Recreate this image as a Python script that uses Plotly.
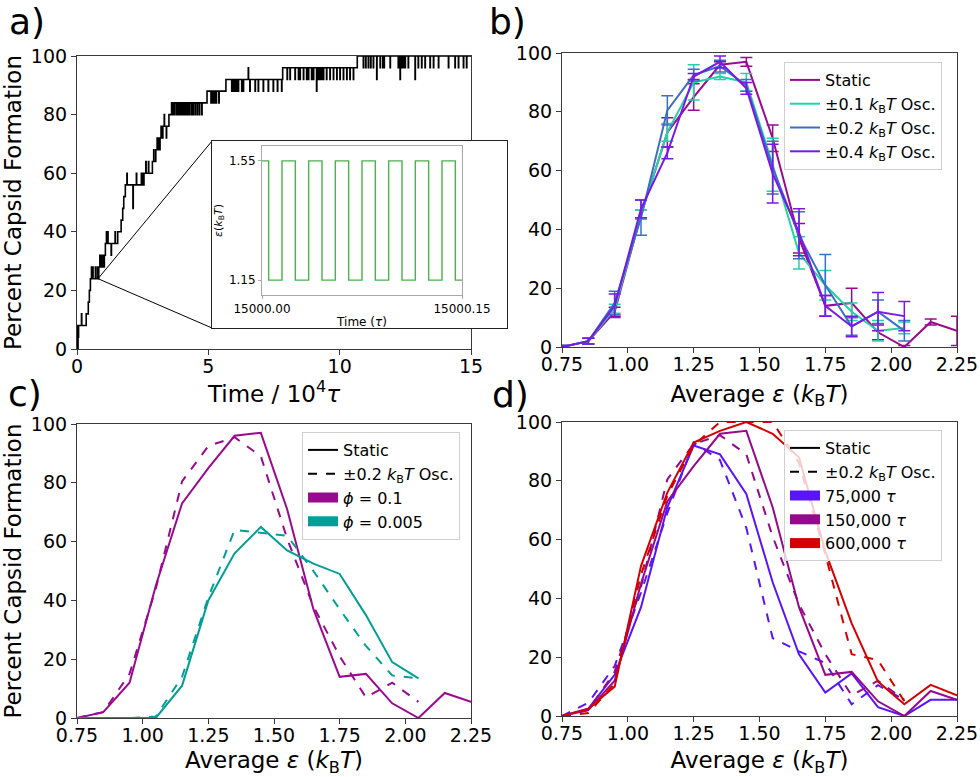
import bisect
import plotly.graph_objects as go

FONT = "DejaVu Sans"
W, H = 980, 777

# ---------------- data ----------------
# panel a: staircase of capsid formation vs time (10^4 tau)
a_step_t = [0.0, 0.04, 0.06, 0.35, 0.43, 0.47, 0.51, 0.83, 0.87, 1.08, 1.55, 1.68, 1.74,
            1.78, 1.84, 2.55, 2.87, 3.0, 3.1, 3.27, 3.5, 3.6, 4.95, 5.67, 7.83, 10.67, 15.0]
a_step_pct = [0, 4, 8, 12, 16, 20, 24, 28, 32, 36, 40, 44, 48,
              52, 56, 60, 64, 68, 72, 76, 80, 84, 88, 92, 96, 100, 100]
# momentary fluctuations (time, percent)
a_spike_t = [0.02, 0.17,
             0.55, 0.60, 0.70, 0.78,
             0.90, 0.93, 0.96, 1.00, 1.03,
             1.12, 1.17, 1.30, 1.45,
             1.90, 2.13, 2.26, 2.45, 2.50, 2.52,
             2.62, 2.72, 2.92, 3.05, 3.15, 3.20, 3.32, 3.40,
             3.65, 3.72, 3.80, 3.86, 3.92, 3.98, 4.05, 4.10, 4.16, 4.22, 4.28, 4.36, 4.42, 4.50, 4.58, 4.66, 4.75,
             5.10, 5.15, 5.20, 5.25, 5.30, 5.40,
             5.89, 5.95, 6.02, 6.08, 6.14, 6.27, 6.33, 6.52, 6.58, 6.78, 6.90, 7.09, 7.28, 7.47, 7.63, 7.79,
             8.00, 8.11, 8.30, 8.43, 8.49, 8.62, 8.74, 8.81, 8.93, 9.00, 9.12,
             9.19, 9.25, 9.31, 9.38, 9.50, 9.63, 9.76, 9.89, 10.01, 10.14, 10.27, 10.39, 10.52,
             10.90, 10.99, 11.09, 11.18, 11.28, 11.41, 11.54, 11.64, 11.69, 11.92, 12.23, 12.30,
             12.36, 12.42, 12.49, 12.61, 12.87,
             12.99, 13.12, 13.25, 13.44, 13.57, 13.76, 14.14, 14.39, 14.52, 14.71, 14.83]
a_spike_pct = [8, 12,
               28, 28, 28, 28,
               28, 28, 28, 28, 28,
               40, 40, 32, 40,
               60, 48, 60, 60, 60, 60,
               64, 64, 68, 72, 68, 76, 80, 72,
               80, 80, 80, 80, 80, 80, 80, 80, 80, 80, 80, 80, 80, 80, 80, 80, 80,
               84, 84, 84, 84, 84, 84,
               88, 88, 88, 88, 88, 88, 88, 96, 88, 88, 88, 88, 88, 88, 88, 88,
               92, 92, 92, 92, 92, 92, 92, 92, 92, 92, 88,
               92, 92, 92, 92, 92, 92, 92, 92, 92, 92, 92, 92, 92,
               96, 96, 96, 96, 96, 92, 96, 96, 96, 96, 96, 92,
               96, 96, 96, 96, 92,
               96, 96, 96, 96, 96, 96, 96, 96, 96, 96, 96]
zoom_t, zoom_pct = 0.8, 24

# inset: oscillating epsilon (time offset from 15000 tau)
osc_t = [0.000, 0.005, 0.015, 0.025, 0.035, 0.045, 0.055, 0.065, 0.075,
         0.085, 0.095, 0.105, 0.115, 0.125, 0.135, 0.145, 0.150]
osc_eps = [1.55, 1.15, 1.55, 1.15, 1.55, 1.15, 1.55, 1.15, 1.55,
           1.15, 1.55, 1.15, 1.55, 1.15, 1.55, 1.15, 1.15]

# average epsilon bins
eps_all = [0.75, 0.85, 0.95, 1.05, 1.15, 1.25, 1.35, 1.45, 1.55, 1.65, 1.75, 1.85, 1.95, 2.05, 2.15, 2.25]
eps_osc = [0.75, 0.85, 0.95, 1.05, 1.15, 1.25, 1.35, 1.45, 1.55, 1.65, 1.75, 1.85, 1.95, 2.05]

# panel b (phi = 0.1, 150,000 tau)
static_pct = [0, 2, 12, 45, 73, 85, 96, 97, 71, 37, 14, 15, 5, 0, 8.5, 5.5]
static_err = [0.5, 1, 1.5, 1.5, 5, 4.5, 1, 1.5, 4.5, 5, 3.5, 5, 2.5, 0.5, 1, 5]
osc01_pct = [0, 2, 13, 45, 73, 90, 92, 90, 62, 32, 21, 12, 5.5, 6.5]
osc01_err = [0.5, 1, 1.5, 1.5, 3, 6, 1, 3, 9, 5.5, 5, 3, 3.5, 2]
osc02_pct = [0, 2, 15, 44, 80.5, 92.5, 95.5, 89, 61, 38, 21, 7, 12, 5.5]
osc02_err = [0.5, 1, 4, 6, 5, 2, 2, 2, 9, 8, 10.5, 3, 4, 3.5]
osc04_pct = [0, 2, 14, 47, 66, 92, 97, 88, 59, 39, 14, 7, 12, 10.5]
osc04_err = [0.5, 1, 4, 3, 2, 1, 2, 2, 10, 8, 3.5, 3.5, 6.5, 5]

# panel c (phi = 0.005)
phi005_static = [0, 0, 0, 0, 11, 40, 56, 65, 57, 52.5, 49, 35, 19, 13.5]
phi005_osc = [0, 0, 0, 0.5, 14, 41, 64, 63, 62, 50, 37, 24.5, 14.5, 13.5]

# panel d (run lengths)
t75_static = [0, 2.5, 14, 37, 71, 92, 89, 75.5, 45.5, 21, 8, 14.5, 3, 0, 5.5, 5.5]
t75_osc = [0, 4.5, 17, 42, 69, 93, 87, 64, 26.5, 22, 18, 4, 10.5, 5.5]
t600_static = [0, 2.5, 10, 51, 76, 93, 97, 100, 96, 88, 56, 31.5, 11.7, 4, 10.6, 7]
t600_osc = [0, 1, 11, 48, 75, 92, 100, 100, 100, 86, 55, 21, 19, 5]

assert len(a_spike_t) == len(a_spike_pct)

# ---------------- colours ----------------
C_STATIC = "#9a0a8e"
C_OSC01 = "#22d3a5"
C_OSC02 = "#3b6fc4"
C_OSC04 = "#7a18e6"
C_PHI005 = "#009e96"
C_T75 = "#5a14fa"
C_T150 = "#96088c"
C_T600 = "#d40000"
C_INSET = "#4cb04c"

# ---------------- layout geometry (paper fractions) ----------------
def px_x(a, b):
    return [a / W, b / W]

def px_y(top, bottom):
    return [1 - bottom / H, 1 - top / H]

dom_a = (px_x(77, 471), px_y(56, 349))
dom_b = (px_x(562, 957), px_y(53, 347))
dom_c = (px_x(77, 471), px_y(424, 718))
dom_d = (px_x(562, 957), px_y(422, 716))
dom_box = (px_x(212, 507), px_y(141, 328))
dom_in = (px_x(262, 462), px_y(146, 295))

# ---------------- build panel a series ----------------
def base_at(t):
    i = bisect.bisect_right(a_step_t, t) - 1
    return a_step_pct[max(i, 0)]

pts = list(zip(a_step_t, a_step_pct))
for t, v in zip(a_spike_t, a_spike_pct):
    pts.append((t, v))
    pts.append((t + 0.012, base_at(t)))
pts.sort(key=lambda p: p[0])
a_x = [p[0] for p in pts]
a_y = [p[1] for p in pts]

fig = go.Figure()

fig.add_trace(go.Scatter(x=a_x, y=a_y, mode="lines", line=dict(color="black", width=1.6, shape="hv"),
                         xaxis="x", yaxis="y", showlegend=False, hoverinfo="skip"))

# connector lines from the zoom point to the inset box (box corners in data coords of axis a)
def paper_to_a(fx, fy):
    dx, dy = dom_a
    return ((fx - dx[0]) / (dx[1] - dx[0]) * 15.0, (fy - dy[0]) / (dy[1] - dy[0]) * 100.0)

bx0 = dom_box[0][0]
c_top = paper_to_a(bx0, dom_box[1][1])
c_bot = paper_to_a(bx0, dom_box[1][0])
fig.add_trace(go.Scatter(x=[c_top[0], zoom_t, c_bot[0]], y=[c_top[1], zoom_pct, c_bot[1]],
                         mode="lines", line=dict(color="black", width=1), cliponaxis=False,
                         xaxis="x", yaxis="y", showlegend=False, hoverinfo="skip"))

# inset box (empty subplot) + inset
fig.add_trace(go.Scatter(x=[], y=[], xaxis="x5", yaxis="y5", showlegend=False, hoverinfo="skip"))
fig.add_trace(go.Scatter(x=osc_t, y=osc_eps, mode="lines", line=dict(color=C_INSET, width=1.4, shape="hv"),
                         xaxis="x6", yaxis="y6", showlegend=False, hoverinfo="skip"))

# panel b
b_series = [
    ("Static", eps_all, static_pct, static_err, C_STATIC),
    ("±0.1 <i>k</i><sub>B</sub><i>T</i> Osc.", eps_osc, osc01_pct, osc01_err, C_OSC01),
    ("±0.2 <i>k</i><sub>B</sub><i>T</i> Osc.", eps_osc, osc02_pct, osc02_err, C_OSC02),
    ("±0.4 <i>k</i><sub>B</sub><i>T</i> Osc.", eps_osc, osc04_pct, osc04_err, C_OSC04),
]
for name, xs, ys, es, col in b_series:
    fig.add_trace(go.Scatter(x=xs, y=ys, mode="lines", name=name, line=dict(color=col, width=2),
                             error_y=dict(type="data", array=es, color=col, thickness=1.5, width=6),
                             xaxis="x2", yaxis="y2", legend="legend"))

# panel c
fig.add_trace(go.Scatter(x=eps_all, y=static_pct, mode="lines", line=dict(color=C_STATIC, width=2),
                         xaxis="x3", yaxis="y3", showlegend=False))
fig.add_trace(go.Scatter(x=eps_osc, y=osc02_pct, mode="lines", line=dict(color=C_STATIC, width=2, dash="dash"),
                         xaxis="x3", yaxis="y3", showlegend=False))
fig.add_trace(go.Scatter(x=eps_osc, y=phi005_static, mode="lines", line=dict(color=C_PHI005, width=2),
                         xaxis="x3", yaxis="y3", showlegend=False))
fig.add_trace(go.Scatter(x=eps_osc, y=phi005_osc, mode="lines", line=dict(color=C_PHI005, width=2, dash="dash"),
                         xaxis="x3", yaxis="y3", showlegend=False))
c_leg = [("Static", "black", 2, "solid"),
         ("±0.2 <i>k</i><sub>B</sub><i>T</i> Osc.", "black", 2, "dash"),
         ("<i>ϕ</i> = 0.1", C_STATIC, 10, "solid"),
         ("<i>ϕ</i> = 0.005", C_PHI005, 10, "solid")]
for name, col, w, d in c_leg:
    fig.add_trace(go.Scatter(x=[None], y=[None], mode="lines", name=name, line=dict(color=col, width=w, dash=d),
                             xaxis="x3", yaxis="y3", legend="legend2"))

# panel d
d_series = [
    (eps_all, t75_static, C_T75, "solid"), (eps_osc, t75_osc, C_T75, "dash"),
    (eps_all, static_pct, C_T150, "solid"), (eps_osc, osc02_pct, C_T150, "dash"),
    (eps_all, t600_static, C_T600, "solid"), (eps_osc, t600_osc, C_T600, "dash"),
]
for xs, ys, col, d in d_series:
    fig.add_trace(go.Scatter(x=xs, y=ys, mode="lines", line=dict(color=col, width=2, dash=d),
                             xaxis="x4", yaxis="y4", showlegend=False))
d_leg = [("Static", "black", 2, "solid"),
         ("±0.2 <i>k</i><sub>B</sub><i>T</i> Osc.", "black", 2, "dash"),
         ("75,000 <i>τ</i>", C_T75, 10, "solid"),
         ("150,000 <i>τ</i>", C_T150, 10, "solid"),
         ("600,000 <i>τ</i>", C_T600, 10, "solid")]
for name, col, w, d in d_leg:
    fig.add_trace(go.Scatter(x=[None], y=[None], mode="lines", name=name, line=dict(color=col, width=w, dash=d),
                             xaxis="x4", yaxis="y4", legend="legend3"))

# ---------------- axes ----------------
TICKFONT = dict(family=FONT, size=19, color="black")
TITLEFONT = dict(family=FONT, size=23, color="black")

def ax(domain, rng, anchor, **kw):
    d = dict(domain=domain, range=rng, anchor=anchor, showline=True, mirror=True, linecolor="#3a3a3a",
             linewidth=1.2, ticks="outside", ticklen=5, tickcolor="#3a3a3a", tickfont=TICKFONT,
             showgrid=False, zeroline=False, automargin=False, fixedrange=True)
    d.update(kw)
    return d

XSHIFT = -5
eps_title = dict(text="Average <i>ε</i> (<i>k</i><sub>B</sub><i>T</i>)", font=TITLEFONT, standoff=11)
pct_title = dict(text="Percent Capsid Formation", font=TITLEFONT, standoff=6)

layout = dict(
    width=W, height=H, margin=dict(l=0, r=0, t=0, b=0), template="none",
    paper_bgcolor="white", plot_bgcolor="white", font=dict(family=FONT, color="black"),
    xaxis=ax(dom_a[0], [0, 15], "y", tickvals=[0, 5, 10, 15], ticklabelstandoff=XSHIFT,
             title=dict(text="Time / 10<sup>4</sup><i>τ</i>", font=TITLEFONT, standoff=4)),
    yaxis=ax(dom_a[1], [0, 100], "x", dtick=20, tick0=0, title=pct_title),
    xaxis2=ax(dom_b[0], [0.75, 2.25], "y2", tick0=0.75, dtick=0.25, tickformat=".2f",
              ticklabelstandoff=XSHIFT, title=eps_title),
    yaxis2=ax(dom_b[1], [0, 100], "x2", dtick=20, tick0=0),
    xaxis3=ax(dom_c[0], [0.75, 2.25], "y3", tick0=0.75, dtick=0.25, tickformat=".2f",
              ticklabelstandoff=XSHIFT, title=eps_title),
    yaxis3=ax(dom_c[1], [0, 100], "x3", dtick=20, tick0=0, title=pct_title),
    xaxis4=ax(dom_d[0], [0.75, 2.25], "y4", tick0=0.75, dtick=0.25, tickformat=".2f",
              ticklabelstandoff=XSHIFT, title=eps_title),
    yaxis4=ax(dom_d[1], [0, 100], "x4", dtick=20, tick0=0),
    xaxis5=dict(domain=dom_box[0], range=[0, 1], anchor="y5", showline=True, mirror=True, linecolor="#222",
                linewidth=1.2, showticklabels=False, ticks="", showgrid=False, zeroline=False, fixedrange=True),
    yaxis5=dict(domain=dom_box[1], range=[0, 1], anchor="x5", showline=True, mirror=True, linecolor="#222",
                linewidth=1.2, showticklabels=False, ticks="", showgrid=False, zeroline=False, fixedrange=True),
    xaxis6=dict(domain=dom_in[0], range=[0, 0.15], anchor="y6", showline=True, mirror=True, linecolor="#a8a8a8",
                linewidth=1, ticks="outside", ticklen=3, tickcolor="#a8a8a8", tickvals=[0, 0.15],
                ticktext=["15000.00", "15000.15"], tickfont=dict(family=FONT, size=12, color="black"),
                showgrid=False, zeroline=False, fixedrange=True,
                title=dict(text="Time (<i>τ</i>)", font=dict(family=FONT, size=12, color="black"), standoff=2)),
    yaxis6=dict(domain=dom_in[1], range=[1.10, 1.60], anchor="x6", showline=True, mirror=True, linecolor="#a8a8a8",
                linewidth=1, ticks="outside", ticklen=3, tickcolor="#a8a8a8", tickvals=[1.15, 1.55],
                tickformat=".2f", tickfont=dict(family=FONT, size=12, color="black"),
                showgrid=False, zeroline=False, fixedrange=True,
                title=dict(text="<i>ε</i>(<i>k</i><sub>B</sub><i>T</i>)", font=dict(family=FONT, size=11, color="black"),
                           standoff=4)),
)

LEG = dict(font=dict(family=FONT, size=16, color="black"), bgcolor="rgba(255,255,255,0.8)",
           bordercolor="#d0d0d0", borderwidth=1, xanchor="right", yanchor="top", tracegroupgap=0,
           itemclick=False, itemdoubleclick=False)
layout["legend"] = dict(LEG, x=942 / W, y=1 - 62 / H)
layout["legend2"] = dict(LEG, x=460 / W, xanchor="right", y=1 - 432 / H)
layout["legend3"] = dict(LEG, x=942 / W, y=1 - 430 / H)

labels = [("a)", 27, 22), ("b)", 507, 22), ("c)", 25, 393), ("d)", 510, 394)]
layout["annotations"] = [dict(text=t, x=x / W, y=1 - y / H, xref="paper", yref="paper", showarrow=False,
                              xanchor="center", yanchor="middle", font=dict(family=FONT, size=36, color="black"))
                         for t, x, y in labels]

fig.update_layout(**layout)
fig.write_html("out.html", config={"displayModeBar": False},
               post_script="document.body.style.margin='0';document.body.style.overflow='hidden';")
